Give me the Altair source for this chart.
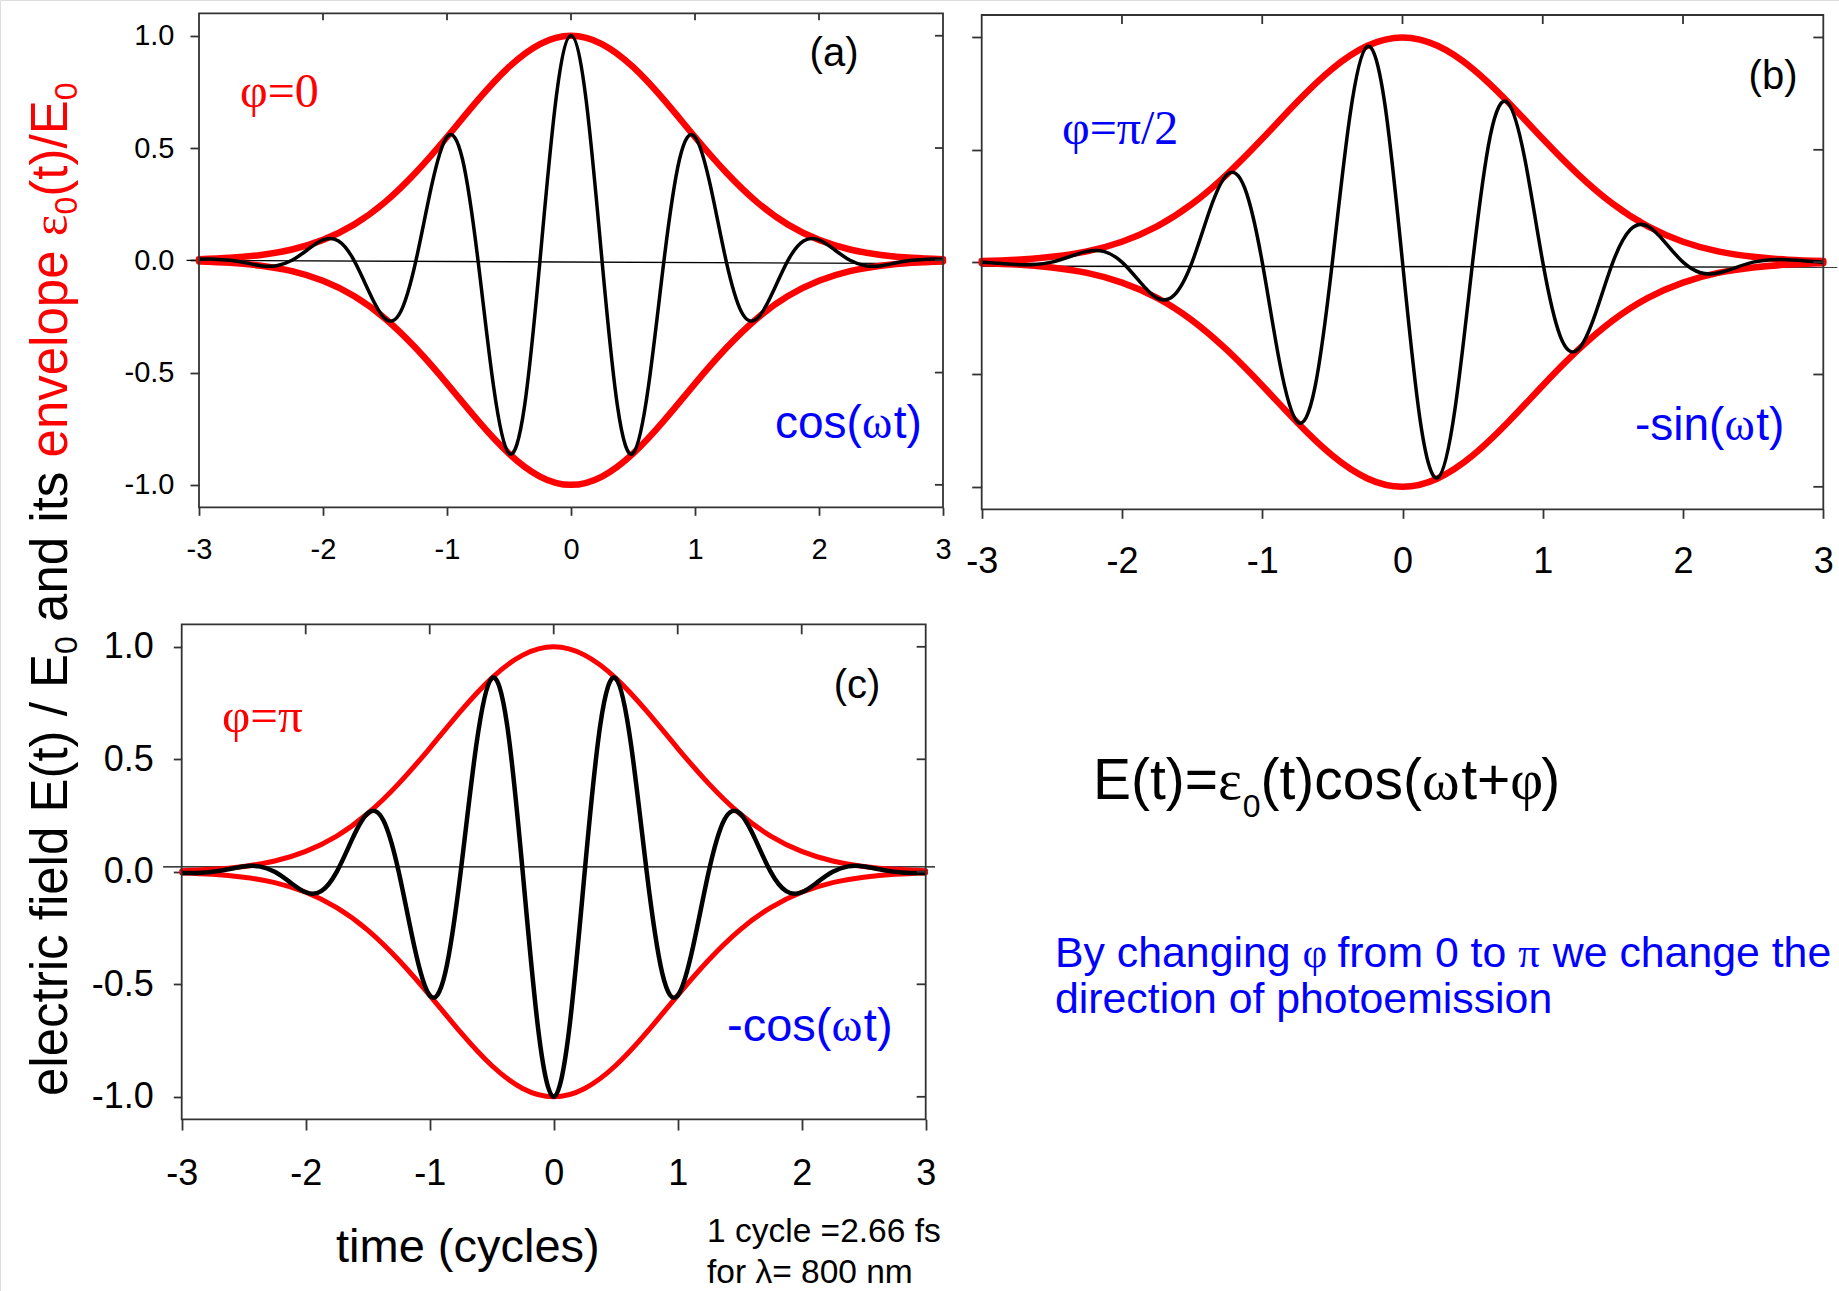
import altair as alt
import pandas as pd

W, H = 1839, 1291
SANS = "Liberation Sans"
SERIF = "Liberation Serif"
RED = "#ff0000"
BLUE = "#0000ff"
FRAME = "#333333"

# ---------------- data ----------------
T8 = [-3.0, -2.875, -2.75, -2.625, -2.5, -2.375, -2.25, -2.125, -2.0, -1.875,
      -1.75, -1.625, -1.5, -1.375, -1.25, -1.125, -1.0, -0.875, -0.75, -0.625,
      -0.5, -0.375, -0.25, -0.125, 0.0, 0.125, 0.25, 0.375, 0.5, 0.625, 0.75,
      0.875, 1.0, 1.125, 1.25, 1.375, 1.5, 1.625, 1.75, 1.875, 2.0, 2.125, 2.25,
      2.375, 2.5, 2.625, 2.75, 2.875, 3.0]

# (a) phi = 0  : cos(wt)
SIG_A = [0.005, 0.005, 0.0, -0.011, -0.024, -0.024, 0.0, 0.047, 0.091, 0.086,
         0.0, -0.145, -0.26, -0.23, 0.0, 0.33, 0.55, 0.45, 0.0, -0.56, -0.86,
         -0.65, 0.0, 0.70, 1.00, 0.70, 0.0, -0.65, -0.86, -0.56, 0.0, 0.45, 0.55,
         0.33, 0.0, -0.23, -0.26, -0.145, 0.0, 0.086, 0.091, 0.047, 0.0, -0.024,
         -0.024, -0.011, 0.0, 0.005, 0.005]

# (b) phi = pi/2 : -sin(wt)
SIG_B = [0.0, -0.005, -0.011, -0.011, 0.0, 0.024, 0.048, 0.047, 0.0, -0.086,
         -0.16, -0.145, 0.0, 0.23, 0.39, 0.33, 0.0, -0.45, -0.71, -0.56, 0.0,
         0.65, 0.96, 0.70, 0.0, -0.70, -0.96, -0.65, 0.0, 0.56, 0.71, 0.45, 0.0,
         -0.33, -0.39, -0.23, 0.0, 0.145, 0.16, 0.086, 0.0, -0.047, -0.048,
         -0.024, 0.0, 0.011, 0.011, 0.005, 0.0]

# (c) phi = pi : -cos(wt)
SIG_C = [-0.005, -0.005, 0.0, 0.011, 0.024, 0.024, 0.0, -0.047, -0.091, -0.086,
         0.0, 0.145, 0.26, 0.23, 0.0, -0.33, -0.55, -0.45, 0.0, 0.56, 0.86, 0.65,
         0.0, -0.70, -1.00, -0.70, 0.0, 0.65, 0.86, 0.56, 0.0, -0.45, -0.55,
         -0.33, 0.0, 0.23, 0.26, 0.145, 0.0, -0.086, -0.091, -0.047, 0.0, 0.024,
         0.024, 0.011, 0.0, -0.005, -0.005]

# envelope
T4 = [-3.0, -2.75, -2.5, -2.25, -2.0, -1.75, -1.5, -1.25, -1.0, -0.75, -0.5,
      -0.25, 0.0, 0.25, 0.5, 0.75, 1.0, 1.25, 1.5, 1.75, 2.0, 2.25, 2.5, 2.75, 3.0]
ENV_HI = [0.005, 0.011, 0.024, 0.048, 0.091, 0.159, 0.259, 0.392, 0.549, 0.714,
          0.861, 0.963, 1.00, 0.963, 0.861, 0.714, 0.549, 0.392, 0.259, 0.159,
          0.091, 0.048, 0.024, 0.011, 0.005]
ENV_LO = [-0.005, -0.011, -0.024, -0.048, -0.091, -0.159, -0.259, -0.392, -0.549,
          -0.714, -0.861, -0.963, -1.00, -0.963, -0.861, -0.714, -0.549, -0.392,
          -0.259, -0.159, -0.091, -0.048, -0.024, -0.011, -0.005]

# thin zero lines (slightly off as in the picture)
ZERO_A_T = [-3.1, 3.0]
ZERO_A_V = [0.0, -0.015]
ZERO_B_T = [-3.0, 3.1]
ZERO_B_V = [-0.018, -0.022]
ZERO_C_T = [-3.15, 3.075]
ZERO_C_V = [0.022, 0.022]

X_TICKS = [-3, -2, -1, 0, 1, 2, 3]
Y_TICKS = [-1.0, -0.5, 0.0, 0.5, 1.0]
INNER_X = [-2, -1, 0, 1, 2]

MINUS_FIX = "replace(datum.label, '\u2212', '-')"

# ---------------- panel layout ----------------
PA = dict(xr=[199, 943], yr=[507.3, 13.3], xtick=8, xlab=29, xpad=20,
          ytick=9, ylab=29, ypad=16, ylabels=True, topt=0.031, rightt=0.065)
PB = dict(xr=[981.7, 1823.3], yr=[509.3, 15], xtick=9, xlab=36, xpad=26,
          ytick=10, ylab=29, ypad=16, ylabels=False, topt=0.040, rightt=0.071)
PC = dict(xr=[181.7, 925.7], yr=[1119.3, 624.3], xtick=10.7, xlab=36, xpad=26,
          ytick=8.4, ylab=36, ypad=20, ylabels=True, topt=0.0445, rightt=0.073)


def panel(P, sig, zt, zv, black_w, red_w):
    xs = alt.Scale(domain=[-3, 3], range=P['xr'], nice=False, zero=False)
    ys = alt.Scale(domain=[-1.1, 1.1], range=P['yr'], nice=False, zero=False)
    xa = alt.Axis(orient='bottom', offset=P['yr'][0] - H, values=X_TICKS,
                  tickSize=P['xtick'], tickWidth=1.8, tickColor=FRAME,
                  domain=False, grid=False, labelFontSize=P['xlab'],
                  labelFont=SANS, labelColor='black', labelPadding=P['xpad'],
                  labelFlush=False, labelOverlap=False, labelExpr=MINUS_FIX,
                  title=None)
    ya = alt.Axis(orient='left', offset=-P['xr'][0], values=Y_TICKS,
                  tickSize=P['ytick'], tickWidth=1.8, tickColor=FRAME,
                  domain=False, grid=False, labels=P['ylabels'],
                  labelFontSize=P['ylab'], labelFont=SANS, labelColor='black',
                  labelPadding=P['ypad'], labelOverlap=False, format='.1f',
                  labelExpr=MINUS_FIX, title=None)

    def X(f):
        return alt.X(f, type='quantitative', scale=xs, axis=xa)

    def Y(f):
        return alt.Y(f, type='quantitative', scale=ys, axis=ya)

    zero = alt.Chart(pd.DataFrame({'t': zt, 'v': zv})).mark_line(
        color='black', strokeWidth=1.3).encode(x=X('t'), y=Y('v'))
    env = alt.Chart(pd.DataFrame({'t': T4, 'hi': ENV_HI, 'lo': ENV_LO}))
    hi = env.mark_line(color=RED, strokeWidth=red_w, interpolate='natural',
                       strokeCap='round').encode(x=X('t'), y=Y('hi'))
    lo = env.mark_line(color=RED, strokeWidth=red_w, interpolate='natural',
                       strokeCap='round').encode(x=X('t'), y=Y('lo'))
    s = alt.Chart(pd.DataFrame({'t': T8, 'v': sig})).mark_line(
        color='black', strokeWidth=black_w, interpolate='natural').encode(
        x=X('t'), y=Y('v'))
    frame = alt.Chart(pd.DataFrame({'x1': [-3], 'x2': [3], 'y1': [-1.1], 'y2': [1.1]})
                      ).mark_rect(fillOpacity=0, stroke=FRAME, strokeWidth=1.8).encode(
        x=X('x1'), x2='x2:Q', y=Y('y1'), y2='y2:Q')
    top = alt.Chart(pd.DataFrame({'t': INNER_X, 'a': [1.1] * 5,
                                  'b': [1.1 - P['topt']] * 5})).mark_rule(
        color=FRAME, strokeWidth=1.8).encode(x=X('t'), y=Y('a'), y2='b:Q')
    right = alt.Chart(pd.DataFrame({'v': Y_TICKS, 'a': [3] * 5,
                                    'b': [3 - P['rightt']] * 5})).mark_rule(
        color=FRAME, strokeWidth=1.8).encode(y=Y('v'), x=X('a'), x2='b:Q')
    return alt.layer(zero, hi, lo, s, frame, top, right)


# ---------------- text helpers ----------------
SANS_W = {' ': 278, '(': 333, ')': 333, '/': 278, '=': 584, '+': 584, '-': 333,
          '.': 278, 'B': 667, 'E': 667, 'a': 556, 'b': 556, 'c': 500, 'd': 556,
          'e': 556, 'f': 278, 'g': 556, 'h': 556, 'i': 222, 'l': 222, 'm': 833,
          'n': 556, 'o': 556, 'p': 556, 'r': 333, 's': 500, 't': 278, 'v': 500,
          'w': 722, 'y': 500}
for _d in '0123456789':
    SANS_W[_d] = 556
SERIF_W = {'φ': 540, 'π': 530, 'ω': 690, 'ε': 430, '=': 564, '/': 278, ' ': 250}
for _d in '0123456789':
    SERIF_W[_d] = 500

ONE = pd.DataFrame({'k': [0]})


def width(s, font, size):
    tbl = SERIF_W if font == SERIF else SANS_W
    return sum(tbl.get(c, 556) for c in s) * size / 1000.0


def txt(s, x, y, size, color='black', font=SANS, angle=0, align='left'):
    return alt.Chart(ONE).mark_text(text=s, font=font, fontSize=size, color=color,
                                    angle=angle, align=align,
                                    baseline='alphabetic').encode(
        x=alt.value(x), y=alt.value(y))


def run(segs, x, y, vertical=False):
    """Place text pieces one after another; leading/trailing blanks only move the pen."""
    out = []
    for s, font, size, color, shift in segs:
        lead = len(s) - len(s.lstrip(' '))
        pre = width(' ' * lead, font, size)
        body = s.strip(' ')
        if vertical:
            if body:
                out.append(txt(body, x + shift, y - pre, size, color, font, angle=270))
            y -= width(s, font, size)
        else:
            if body:
                out.append(txt(body, x + pre, y + shift, size, color, font))
            x += width(s, font, size)
    return out


texts = []
# panel tags
texts.append(txt("(a)", 834, 66, 40, align='center'))
texts.append(txt("(b)", 1773, 89, 40, align='center'))
texts.append(txt("(c)", 857, 698, 40, align='center'))
# phase labels
texts.append(txt("φ=0", 240, 107, 48, RED, SERIF))
texts.append(txt("φ=π/2", 1062, 144, 48, BLUE, SERIF))
texts.append(txt("φ=π", 222, 732, 49, RED, SERIF))
# waveform labels
texts += run([("cos(", SANS, 46, BLUE, 0), ("ω", SERIF, 46, BLUE, 0),
              ("t)", SANS, 46, BLUE, 0)], 775, 438)
texts += run([("-sin(", SANS, 46, BLUE, 0), ("ω", SERIF, 46, BLUE, 0),
              ("t)", SANS, 46, BLUE, 0)], 1635, 440)
texts += run([("-cos(", SANS, 47, BLUE, 0), ("ω", SERIF, 47, BLUE, 0),
              ("t)", SANS, 47, BLUE, 0)], 727, 1041)
# formula
texts += run([("E(t)=", SANS, 57, 'black', 0), ("ε", SERIF, 57, 'black', 0),
              ("0", SANS, 32, 'black', 18), ("(t)cos(", SANS, 57, 'black', 0),
              ("ω", SERIF, 57, 'black', 0), ("t+", SANS, 57, 'black', 0),
              ("φ", SERIF, 57, 'black', 0), (")", SANS, 57, 'black', 0)], 1093, 799)
# blue remark
texts += run([("By changing ", SANS, 42.8, BLUE, 0), ("φ", SERIF, 42.8, BLUE, 0),
              (" from 0 to ", SANS, 42.8, BLUE, 0), ("π", SERIF, 42.8, BLUE, 0),
              (" we change the", SANS, 42.8, BLUE, 0)], 1055, 967)
texts.append(txt("direction of photoemission", 1055, 1013, 42.8, BLUE))
# x title and note
texts.append(txt("time (cycles)", 336, 1262, 47))
texts.append(txt("1 cycle =2.66 fs", 707, 1242, 33.5))
texts.append(txt("for λ= 800 nm", 707, 1283, 33.5))
# rotated y title
texts += run([("electric field E(t) / E", SANS, 51, 'black', 0),
              ("0", SANS, 32, 'black', 10),
              (" and its ", SANS, 51, 'black', 0),
              ("envelope ", SANS, 51, RED, 0),
              ("ε", SERIF, 51, RED, 0),
              ("0", SANS, 32, RED, 10),
              ("(t)/E", SANS, 51, RED, 0),
              ("0", SANS, 32, RED, 10)], 67, 1096, vertical=True)

pa = panel(PA, SIG_A, ZERO_A_T, ZERO_A_V, 3.5, 6.5)
pb = panel(PB, SIG_B, ZERO_B_T, ZERO_B_V, 3.5, 6.5)
pc = panel(PC, SIG_C, ZERO_C_T, ZERO_C_V, 4.5, 5)

chart = alt.layer(pa, pb, pc, *texts).resolve_scale(
    x='independent', y='independent'
).properties(
    width=W, height=H, padding=0,
    autosize=alt.AutoSizeParams(type='none')
).configure_view(strokeWidth=0).configure(background='white')

chart.save("out.html", embed_options={"renderer": "svg", "actions": False})
